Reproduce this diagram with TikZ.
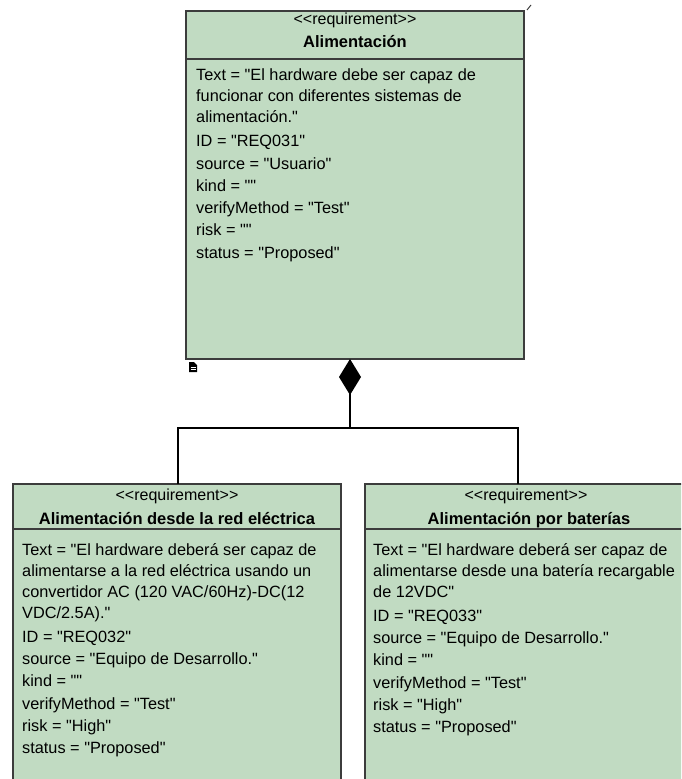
\documentclass[tikz,border=0pt]{standalone}
\usepackage{fontspec}
\setmainfont[Ligatures=TeXOff]{Liberation Sans}
\usetikzlibrary{arrows.meta,calc}
\definecolor{reqfill}{RGB}{193,219,194}
\definecolor{reqline}{RGB}{60,60,60}
\tikzset{
  reqbox/.style={draw=reqline,fill=reqfill,line width=1.3pt,anchor=north west,
    inner sep=0pt,outer sep=0pt},
  stereo/.style={font=\fontsize{16}{18}\selectfont,anchor=base,inner sep=0pt},
  title/.style={font=\bfseries\fontsize{16.5}{18}\selectfont,anchor=base,inner sep=0pt},
  attr/.style={font=\fontsize{16.3}{18}\selectfont,anchor=base west,inner sep=0pt},
  divider/.style={draw=reqline,line width=1.3pt},
  link/.style={draw=black,line width=1.3pt},
}
\begin{document}
\begin{tikzpicture}[x=1pt,y=-1pt]
\useasboundingbox (0,0) rectangle (681,779);
\clip (0,0) rectangle (681,779);
\fill[white] (0,0) rectangle (681,779);

% parent requirement
\node[reqbox,minimum width=338pt,minimum height=348pt] (top) at (186,11) {};
\draw[divider] (186,59) -- (524,59);
\node[stereo] (tops) at (355,24) {<<requirement>>};
\node[title] (topt) at (355,47) {Alimentación};
\node[attr] (t1) at (196,80) {Text = "El hardware debe ser capaz de};
\node[attr] (t2) at (196,101) {funcionar con diferentes sistemas de};
\node[attr] (t3) at (196,122) {alimentación."};
\node[attr] (t4) at (196,146) {ID = "REQ031"};
\node[attr] (t5) at (196,169) {source = "Usuario"};
\node[attr] (t6) at (196,191) {kind = ""};
\node[attr] (t7) at (196,213) {verifyMethod = "Test"};
\node[attr] (t8) at (196,235) {risk = ""};
\node[attr] (t9) at (196,258) {status = "Proposed"};

% left child
\node[reqbox,minimum width=328pt,minimum height=320pt] (lbox) at (13,484) {};
\draw[divider] (13,529) -- (341,529);
\node[stereo] (ls) at (177,500) {<<requirement>>};
\node[title] (lt) at (177,524) {Alimentación desde la red eléctrica};
\node[attr] (l1) at (22,555) {Text = "El hardware deberá ser capaz de};
\node[attr] (l2) at (22,576) {alimentarse a la red eléctrica usando un};
\node[attr] (l3) at (22,597) {convertidor AC (120 VAC/60Hz)-DC(12};
\node[attr] (l4) at (22,618) {VDC/2.5A)."};
\node[attr] (l5) at (22,642) {ID = "REQ032"};
\node[attr] (l6) at (22,664) {source = "Equipo de Desarrollo."};
\node[attr] (l7) at (22,686) {kind = ""};
\node[attr] (l8) at (22,709) {verifyMethod = "Test"};
\node[attr] (l9) at (22,731) {risk = "High"};
\node[attr] (l10) at (22,753) {status = "Proposed"};

% right child
\node[reqbox,minimum width=322pt,minimum height=320pt] (rbox) at (365,484) {};
\draw[divider] (365,529) -- (687,529);
\node[stereo] (rs) at (526,500) {<<requirement>>};
\node[title] (rt) at (529,524) {Alimentación por baterías};
\node[attr] (r1) at (373,555) {Text = "El hardware deberá ser capaz de};
\node[attr] (r2) at (373,576) {alimentarse desde una batería recargable};
\node[attr] (r3) at (373,597) {de 12VDC"};
\node[attr] (r4) at (373,621) {ID = "REQ033"};
\node[attr] (r5) at (373,643) {source = "Equipo de Desarrollo."};
\node[attr] (r6) at (373,665) {kind = ""};
\node[attr] (r7) at (373,688) {verifyMethod = "Test"};
\node[attr] (r8) at (373,710) {risk = "High"};
\node[attr] (r9) at (373,732) {status = "Proposed"};

% composition connector
\coordinate (bus) at ($(top.south)+(-5,69)$);
\draw[line width=2.6pt,{Diamond[length=36pt,width=22pt]}-] ([xshift=-5pt]top.south) -- (bus);
\draw[link] (bus) -| ([xshift=1pt]lbox.north);
\draw[link] (bus) -| ([xshift=153pt]rbox.north west);

% small editor marks
\draw[reqline,line width=1pt] (527,10) -- (531,5);
\fill[black] (189,362) -- (194,362) -- (197,365) -- (197,372) -- (189,372) -- cycle;
\draw[white,line width=0.6pt] (190.5,367) -- (195.5,367) (190.5,369.5) -- (195.5,369.5);
\end{tikzpicture}
\end{document}
